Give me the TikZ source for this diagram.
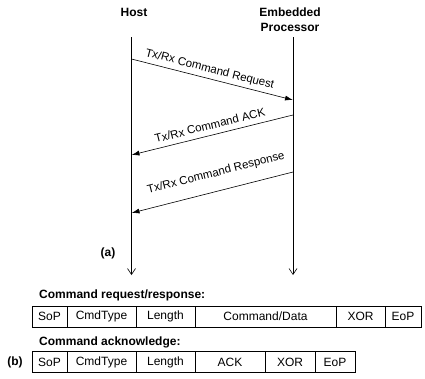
\documentclass[tikz,border=0pt]{standalone}
\usepackage{fontspec}
\setmainfont{Liberation Sans}
\usetikzlibrary{arrows.meta,positioning}

\begin{document}
\begin{tikzpicture}[
    x=1pt, y=-1pt,
    font=\fontsize{12pt}{14pt}\selectfont,
    actor/.style={
        align=center,
        anchor=north,
        inner sep=0pt,
        font=\fontsize{12pt}{14.5pt}\selectfont\bfseries
    },
    lifeLine/.style={
        draw=black,
        line width=0.6pt,
        -{Straight Barb[length=6pt,width=8pt]}
    },
    msgArrow/.style={
        draw=black,
        line width=0.6pt,
        -{Latex[length=8pt,width=5pt]}
    },
    msgLabel/.style={
        sloped,
        inner sep=2pt,
        font=\fontsize{11.5pt}{13pt}\selectfont
    },
    fieldBox/.style={
        rectangle,
        draw=black,
        line width=0.6pt,
        minimum height=21pt,
        inner sep=0pt,
        outer sep=0pt
    },
    tableTitle/.style={
        anchor=west,
        inner sep=0pt,
        font=\fontsize{12pt}{14pt}\selectfont\bfseries
    },
    partLabel/.style={
        inner sep=0pt,
        font=\fontsize{12pt}{14pt}\selectfont\bfseries
    }
]

\useasboundingbox (0,0) rectangle (425,378);

% ==================== LIFELINES ====================
\node[actor] (host) at (134,8) {Host};
\node[actor] (proc) at (290,8) {Embedded\\Processor};

\def\seqTop{37}
\def\seqEnd{275}
\coordinate (hostTop) at (131.5,\seqTop);
\coordinate (hostEnd) at (131.5,\seqEnd);
\coordinate (procTop) at (293,\seqTop);
\coordinate (procEnd) at (293,\seqEnd);
\draw[lifeLine] (hostTop) -- (hostEnd);
\draw[lifeLine] (procTop) -- (procEnd);

% ==================== MESSAGES ====================
\coordinate (reqStart) at (131.5,59);
\coordinate (reqEnd) at (293,100);
\coordinate (ackStart) at (293,115);
\coordinate (ackEnd) at (131.5,155);
\coordinate (rspStart) at (293,172);
\coordinate (rspEnd) at (131.5,213);

% 1. Request
\draw[msgArrow] (reqStart) -- node[msgLabel, above=1.5pt, pos=0.47] {Tx/Rx Command Request} (reqEnd);

% 2. ACK
\draw[msgArrow] (ackStart) -- node[msgLabel, above=3.5pt, pos=0.5] {Tx/Rx Command ACK} (ackEnd);

% 3. Response
\draw[msgArrow] (rspStart) -- node[msgLabel, above=10pt, pos=0.45] {Tx/Rx Command Response} (rspEnd);

\node[partLabel] (partA) at (108,253) {(a)};

% ==================== PACKET FORMATS ====================
\node[tableTitle] (rqTitle) at (39,295) {Command request/response:};
\node[fieldBox, minimum width=35pt, anchor=west] (rqSoP) at (32,316.5) {SoP};
\node[fieldBox, minimum width=69pt, right=0pt of rqSoP] (rqType) {CmdType};
\node[fieldBox, minimum width=59pt, right=0pt of rqType] (rqLen) {Length};
\node[fieldBox, minimum width=141pt, right=0pt of rqLen] (rqData) {Command/Data};
\node[fieldBox, minimum width=49pt, right=0pt of rqData] (rqXor) {XOR};
\node[fieldBox, minimum width=36pt, right=0pt of rqXor] (rqEoP) {EoP};

\node[tableTitle] (ackTitle) at (39,342) {Command acknowledge:};
\node[fieldBox, minimum width=35pt, anchor=west] (akSoP) at (32,362) {SoP};
\node[fieldBox, minimum width=69pt, right=0pt of akSoP] (akType) {CmdType};
\node[fieldBox, minimum width=59pt, right=0pt of akType] (akLen) {Length};
\node[fieldBox, minimum width=70pt, right=0pt of akLen] (akAck) {ACK};
\node[fieldBox, minimum width=50pt, right=0pt of akAck] (akXor) {XOR};
\node[fieldBox, minimum width=40pt, right=0pt of akXor] (akEoP) {EoP};

\node[partLabel] (partB) at (15,362) {(b)};

\end{tikzpicture}
\end{document}
